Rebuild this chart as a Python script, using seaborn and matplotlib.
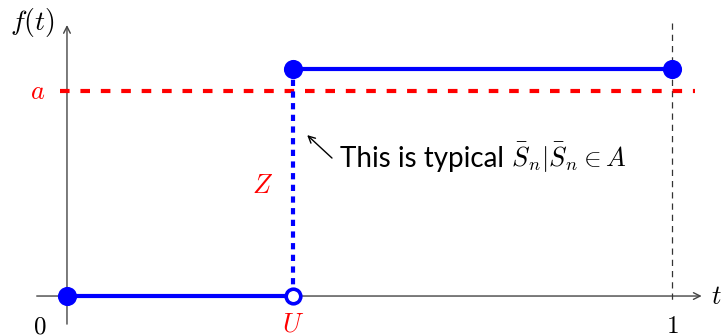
import matplotlib
matplotlib.use("Agg")
import matplotlib.pyplot as plt
import seaborn as sns
import pandas as pd

sns.set_theme(style="white")
plt.rcParams["font.family"] = ["Lato", "DejaVu Sans"]
plt.rcParams["mathtext.fontset"] = "cm"

# step function f(t): 0 on [0, U), height h on [U, 1]
U = 0.374
level_a = 1.0
h = 1.107
t_end = 1.0

lower = pd.DataFrame({"t": [0.0, U], "f": [0.0, 0.0]})
upper = pd.DataFrame({"t": [U, t_end], "f": [h, h]})
jump = pd.DataFrame({"t": [U, U], "f": [0.0, h]})
threshold = pd.DataFrame({"t": [-0.012, 1.038], "f": [level_a, level_a]})
closed_pts = pd.DataFrame({"t": [0.0, U, t_end], "f": [0.0, h, h]})

fig = plt.figure(figsize=(7.22, 3.36), dpi=100)
ax = fig.add_axes([0, 0, 1, 1])
ax.set_xlim(-0.1107, 1.0826)
ax.set_ylim(-0.195, 1.444)
ax.axis("off")

# axes with arrow heads, kept beneath the curve
ax.annotate("", xy=(1.049, 0), xytext=(-0.05, 0), zorder=1,
            arrowprops=dict(arrowstyle="->", color="#444444", lw=1.0,
                            shrinkA=0, shrinkB=0))
ax.annotate("", xy=(0, 1.322), xytext=(0, -0.137), zorder=1,
            arrowprops=dict(arrowstyle="->", color="#444444", lw=1.0,
                            shrinkA=0, shrinkB=0))

# vertical guide at t = 1
ax.plot([t_end, t_end], [1.332, -0.03], color="#333333", lw=0.9,
        dashes=(5, 4), zorder=1)

# threshold a
sns.lineplot(data=threshold, x="t", y="f", ax=ax, color="red", lw=3,
             estimator=None, sort=False, zorder=2)
ax.lines[-1].set_dashes((2.3, 2.6))

# jump at U
sns.lineplot(data=jump, x="t", y="f", ax=ax, color="blue", lw=3,
             estimator=None, sort=False, zorder=3)
ax.lines[-1].set_dashes((1.5, 1.3))

# solid pieces
sns.lineplot(data=lower, x="t", y="f", ax=ax, color="blue", lw=3,
             estimator=None, sort=False, zorder=3)
sns.lineplot(data=upper, x="t", y="f", ax=ax, color="blue", lw=3,
             estimator=None, sort=False, zorder=3)

sns.scatterplot(data=closed_pts, x="t", y="f", ax=ax, color="blue",
                s=190, edgecolor="blue", linewidth=0, zorder=5)
ax.scatter([U], [0.0], s=110, facecolor="white", edgecolor="blue",
           linewidth=2.6, zorder=6)

ax.set_xlabel("")
ax.set_ylabel("")

# labels
ax.text(-0.057, 1.336, r"$f(t)$", fontsize=20, ha="center", va="center",
        color="black")
ax.text(-0.048, level_a, r"$a$", fontsize=19, ha="center", va="center",
        color="red")
ax.text(U - 0.05, 0.54, r"$Z$", fontsize=19, ha="center", va="center",
        color="red")
ax.text(-0.045, -0.145, r"$0$", fontsize=18, ha="center", va="center",
        color="black")
ax.text(U, -0.138, r"$U$", fontsize=19, ha="center", va="center",
        color="red")
ax.text(t_end, -0.145, r"$1$", fontsize=18, ha="center", va="center",
        color="black")
ax.text(1.074, 0.0, r"$t$", fontsize=19, ha="center", va="center",
        color="black")

# annotation pointing at the jump
ax.annotate("", xy=(0.397, 0.785), xytext=(0.438, 0.673),
            arrowprops=dict(arrowstyle="->", color="black", lw=1.0,
                            shrinkA=0, shrinkB=0))
note = ax.text(0.451, 0.629, "This is typical ", fontsize=20,
               ha="left", va="baseline", color="black")
fig.canvas.draw()
renderer = fig.canvas.get_renderer()
bb = note.get_window_extent(renderer)
x_next = ax.transData.inverted().transform((bb.x1, bb.y0))[0]
ax.text(x_next, 0.629, r"$\bar{S}_n|\bar{S}_n \in A$", fontsize=19,
        ha="left", va="baseline", color="black")

fig.savefig("out.png", dpi=100)
